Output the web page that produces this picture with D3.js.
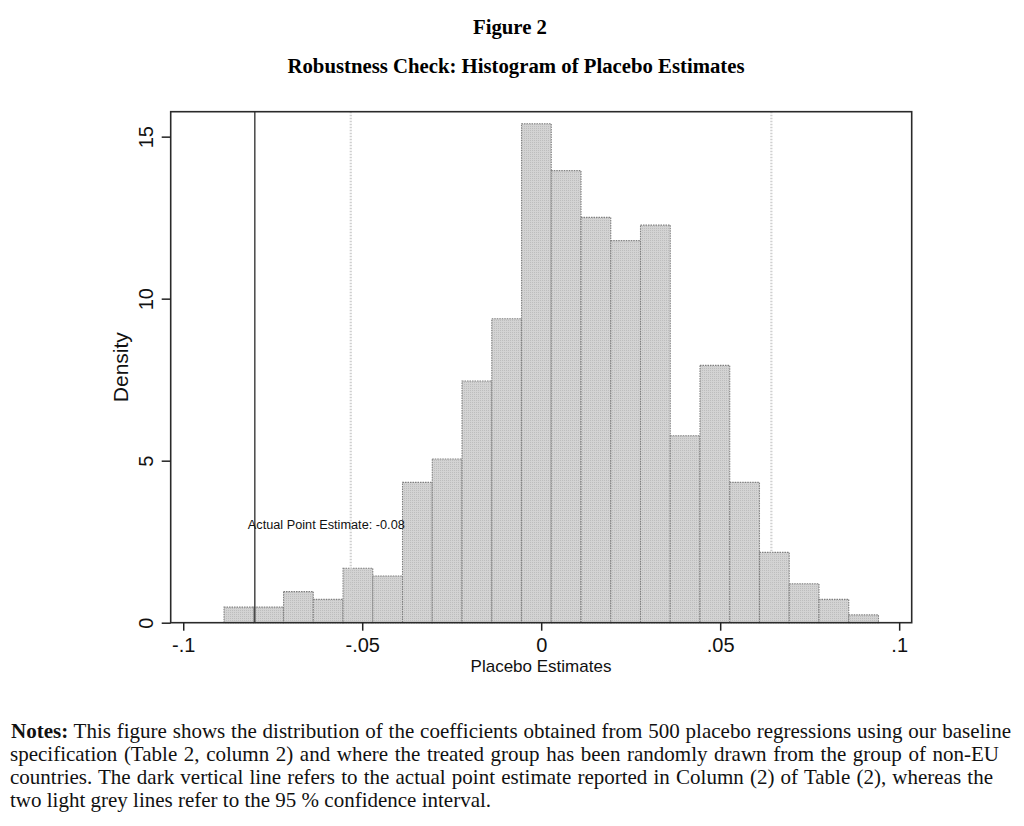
<!DOCTYPE html>
<html>
<head>
<meta charset="utf-8">
<script src="https://cdn.jsdelivr.net/npm/d3@7"></script>
<style>
  body { margin: 0; background: #fff; }
</style>
</head>
<body>
<script>
// histogram of 500 placebo estimates, 22 bins (density)
var density = [0.48, 0.48, 0.96, 0.72, 1.68, 1.44, 4.33, 5.05, 7.46, 9.38, 15.40,
               13.95, 12.51, 11.79, 12.27, 5.77, 7.94, 4.33, 2.17, 1.20, 0.72, 0.24];
var binStart = -0.0886,
    binWidth = 0.00831;

var xTicks = [-0.1, -0.05, 0, 0.05, 0.1],
    xTickLabels = ["-.1", "-.05", "0", ".05", ".1"];
var yTicks = [0, 5, 10, 15],
    yTickLabels = ["0", "5", "10", "15"];

var pointEstimate = -0.08,
    pointLabel = "Actual Point Estimate: -0.08",
    pointLabelY = 3;
var ciBounds = [-0.0532, 0.0643];

var titleLines = ["Figure 2", "Robustness Check: Histogram of Placebo Estimates"];
var notesLines = [
    "This figure shows the distribution of the coefficients obtained from 500 placebo regressions using our baseline",
    "specification (Table 2, column 2) and where the treated group has been randomly drawn from the group of non-EU",
    "countries. The dark vertical line refers to the actual point estimate reported in Column (2) of Table (2), whereas the",
    "two light grey lines refer to the 95 % confidence interval."
];

var W = 1024, H = 826;
var plot = { left: 170.7, right: 911.7, top: 111.7, bottom: 622.7 };
var sans = "'Liberation Sans', Arial, sans-serif",
    serif = "'Liberation Serif', 'Times New Roman', serif";

var svg = d3.select("body").append("svg")
    .attr("width", W)
    .attr("height", H);

svg.append("rect").attr("width", W).attr("height", H).attr("fill", "#fff");

// stippled grey fill like the Stata bars
var pat = svg.append("defs").append("pattern")
    .attr("id", "stip")
    .attr("width", 2).attr("height", 2)
    .attr("patternUnits", "userSpaceOnUse");
pat.append("rect").attr("width", 2).attr("height", 2).attr("fill", "#d3d3d3");
pat.append("rect").attr("width", 1).attr("height", 1).attr("fill", "#bdbdbd");

var x = d3.scaleLinear().domain([-0.1035, 0.1035]).range([plot.left, plot.right]);
var y = d3.scaleLinear().domain([0, 15.77]).range([plot.bottom, plot.top]);

// titles
svg.selectAll(".title")
    .data(titleLines)
    .enter().append("text")
    .attr("class", "title")
    .attr("x", function (d, i) { return i == 0 ? 510 : 516; })
    .attr("y", function (d, i) { return i == 0 ? 34 : 73; })
    .attr("text-anchor", "middle")
    .attr("font-family", serif)
    .attr("font-weight", "bold")
    .attr("font-size", 20.5)
    .attr("textLength", function (d, i) { return i == 0 ? 74 : 457; })
    .attr("lengthAdjust", "spacingAndGlyphs")
    .text(function (d) { return d; });

// bars
svg.append("g")
    .selectAll("rect")
    .data(density)
    .enter().append("rect")
    .attr("x", function (d, i) { return x(binStart + i * binWidth); })
    .attr("width", function (d, i) { return x(binStart + (i + 1) * binWidth) - x(binStart + i * binWidth); })
    .attr("y", function (d) { return y(d); })
    .attr("height", function (d) { return y(0) - y(d); })
    .attr("fill", "url(#stip)")
    .attr("stroke", "#808080")
    .attr("stroke-width", 1.1)
    .attr("stroke-dasharray", "1.5,1");

// confidence interval lines
svg.append("g")
    .selectAll("line")
    .data(ciBounds)
    .enter().append("line")
    .attr("x1", function (d) { return x(d); })
    .attr("x2", function (d) { return x(d); })
    .attr("y1", plot.top)
    .attr("y2", plot.bottom)
    .attr("stroke", "#d0d0d0")
    .attr("stroke-width", 2.2)
    .attr("stroke-dasharray", "1.5,1.5");

// actual point estimate
svg.append("line")
    .attr("x1", x(pointEstimate)).attr("x2", x(pointEstimate))
    .attr("y1", plot.top).attr("y2", plot.bottom)
    .attr("stroke", "#3a3a3a")
    .attr("stroke-width", 1.4);

svg.append("text")
    .attr("x", x(pointEstimate) - 7)
    .attr("y", y(pointLabelY) + 4)
    .attr("font-family", sans)
    .attr("font-size", 12.5)
    .attr("textLength", 157)
    .attr("lengthAdjust", "spacingAndGlyphs")
    .attr("fill", "#111")
    .text(pointLabel);

// frame
svg.append("rect")
    .attr("x", plot.left).attr("y", plot.top)
    .attr("width", plot.right - plot.left)
    .attr("height", plot.bottom - plot.top)
    .attr("fill", "none")
    .attr("stroke", "#2a2a2a")
    .attr("stroke-width", 1.6);

// axes
var axisX = d3.axisBottom(x)
    .tickValues(xTicks)
    .tickSize(8)
    .tickPadding(7)
    .tickFormat(function (d, i) { return xTickLabels[i]; });
var gx = svg.append("g")
    .attr("transform", "translate(0," + plot.bottom + ")")
    .call(axisX);
gx.select(".domain").remove();
gx.selectAll("line").attr("stroke", "#222").attr("stroke-width", 1.5);
gx.selectAll("text")
    .attr("font-family", sans)
    .attr("font-size", 20)
    .attr("fill", "#111");

var axisY = d3.axisLeft(y)
    .tickValues(yTicks)
    .tickSize(9)
    .tickFormat(function (d, i) { return yTickLabels[i]; });
var gy = svg.append("g")
    .attr("transform", "translate(" + plot.left + ",0)")
    .call(axisY);
gy.select(".domain").remove();
gy.selectAll("line").attr("stroke", "#222").attr("stroke-width", 1.5);
gy.selectAll("text")
    .attr("x", null).attr("dy", null)
    .attr("text-anchor", "middle")
    .attr("transform", "translate(-25,0) rotate(-90)")
    .attr("dy", "0.36em")
    .attr("font-family", sans)
    .attr("font-size", 20)
    .attr("fill", "#111");

// axis titles
svg.append("text")
    .attr("x", 541).attr("y", 672)
    .attr("text-anchor", "middle")
    .attr("font-family", sans)
    .attr("font-size", 17)
    .attr("fill", "#111")
    .text("Placebo Estimates");

svg.append("text")
    .attr("transform", "translate(128," + ((plot.top + plot.bottom) / 2) + ") rotate(-90)")
    .attr("text-anchor", "middle")
    .attr("font-family", sans)
    .attr("font-size", 21)
    .attr("fill", "#111")
    .text("Density");

// notes, justified by word spacing
var noteTarget = [1000, 989, 983, null];
var noteBase = [738, 761, 784, 807];
notesLines.forEach(function (line, i) {
    var t = svg.append("text")
        .attr("x", i == 0 ? 11 : 10)
        .attr("y", noteBase[i])
        .attr("font-family", serif)
        .attr("font-size", 21)
        .attr("fill", "#111");
    var spaces = line.split(" ").length - 1;
    if (i == 0) {
        t.append("tspan").attr("font-weight", "bold").text("Notes:");
        t.append("tspan").text(" " + line);
        spaces += 1;
    } else {
        t.text(line);
    }
    if (noteTarget[i]) {
        var natural = t.node().getComputedTextLength();
        t.attr("word-spacing", (noteTarget[i] - natural) / spaces);
    }
});
</script>
</body>
</html>
